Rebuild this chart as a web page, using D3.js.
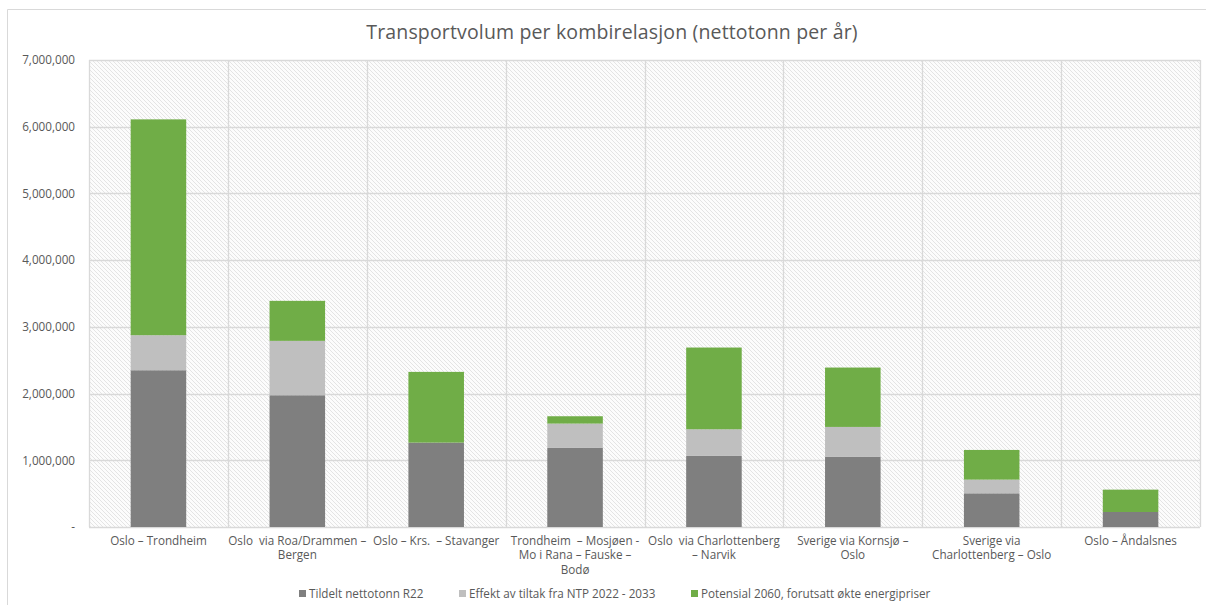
<!DOCTYPE html>
<html>
<head>
<meta charset="utf-8">
<script src="https://cdn.jsdelivr.net/npm/d3@7"></script>
<style>
  body { margin: 0; background: #fff; }
  svg { display: block; font-family: "Open Sans", sans-serif; }
  .cat text { white-space: pre; }
</style>
</head>
<body>
<script>
// category labels (lines split as in the original)
const categories = [
  ["Oslo – Trondheim"],
  ["Oslo  via Roa/Drammen –", "Bergen"],
  ["Oslo – Krs.  – Stavanger"],
  ["Trondheim  – Mosjøen -", "Mo i Rana – Fauske –", "Bodø"],
  ["Oslo  via Charlottenberg", "– Narvik"],
  ["Sverige via Kornsjø –", "Oslo"],
  ["Sverige via", "Charlottenberg – Oslo"],
  ["Oslo – Åndalsnes"]
];
const seriesNames = ["Tildelt nettotonn R22", "Effekt av tiltak fra NTP 2022 - 2033", "Potensial 2060, forutsatt økte energipriser"];
const tildelt = [2350000, 1975000, 1265000, 1185000, 1065000, 1050000, 505000, 225000];
const effekt = [525000, 815000, 0, 365000, 400000, 450000, 205000, 0];
const potensial = [3235000, 600000, 1060000, 110000, 1225000, 890000, 445000, 335000];
const yTicks = [0, 1000000, 2000000, 3000000, 4000000, 5000000, 6000000, 7000000];
const colors = ["#7f7f7f", "#bfbfbf", "#70ad47"];

const W = 1206, H = 605;
const m = { left: 89, top: 60, right: 1200, bottom: 527 };

const svg = d3.select("body").append("svg")
  .attr("width", W)
  .attr("height", H);

// hatch pattern for plot background
const defs = svg.append("defs");
const pat = defs.append("pattern")
  .attr("id", "hatch")
  .attr("patternUnits", "userSpaceOnUse")
  .attr("width", 4).attr("height", 4);
pat.append("rect").attr("width", 4).attr("height", 4).attr("fill", "#fcfcfc");
pat.append("path")
  .attr("d", "M-1,-1 L5,5 M-1,3 L1,5 M3,-1 L5,1")
  .attr("stroke", "#e4e4e4")
  .attr("stroke-width", 1);

// chart border
svg.append("path")
  .attr("d", "M7.5," + H + " L7.5,9.5 L" + W + ",9.5")
  .attr("fill", "none")
  .attr("stroke", "#d9d9d9");

const rows = categories.map((c, i) => ({ i: i, tildelt: tildelt[i], effekt: effekt[i], potensial: potensial[i] }));
const stack = d3.stack().keys(["tildelt", "effekt", "potensial"])(rows);

const x = d3.scaleBand()
  .domain(d3.range(categories.length))
  .range([m.left, m.right])
  .paddingInner(0)
  .paddingOuter(0);

const y = d3.scaleLinear()
  .domain([0, 7000000])
  .range([m.bottom, m.top]);

svg.append("rect")
  .attr("x", m.left).attr("y", m.top)
  .attr("width", m.right - m.left).attr("height", m.bottom - m.top)
  .attr("fill", "url(#hatch)");

// gridlines
svg.append("g").selectAll("line")
  .data(yTicks)
  .join("line")
  .attr("x1", m.left).attr("x2", m.right)
  .attr("y1", d => Math.round(y(d)) + 0.5).attr("y2", d => Math.round(y(d)) + 0.5)
  .attr("stroke", "#d9d9d9").attr("stroke-width", 1.3);

svg.append("g").selectAll("line")
  .data(d3.range(categories.length + 1))
  .join("line")
  .attr("x1", d => Math.round(m.left + d * x.bandwidth()) + 0.5)
  .attr("x2", d => Math.round(m.left + d * x.bandwidth()) + 0.5)
  .attr("y1", m.top).attr("y2", m.bottom)
  .attr("stroke", "#d9d9d9").attr("stroke-width", 1.3);

// bars
const barW = x.bandwidth() * 0.4;
svg.append("g").selectAll("g")
  .data(stack)
  .join("g")
  .attr("fill", (d, i) => colors[i])
  .selectAll("rect")
  .data(d => d)
  .join("rect")
  .attr("x", (d, i) => x(i) + (x.bandwidth() - barW) / 2)
  .attr("y", d => y(d[1]))
  .attr("width", barW)
  .attr("height", d => y(d[0]) - y(d[1]));

// y axis
const yAxis = d3.axisLeft(y)
  .tickValues(yTicks)
  .tickSize(0)
  .tickPadding(14)
  .tickFormat(d => d === 0 ? "-" : d3.format(",")(d));

svg.append("g")
  .attr("transform", "translate(" + m.left + ",0)")
  .call(yAxis)
  .call(g => g.select(".domain").remove())
  .call(g => g.selectAll("text")
    .attr("fill", "#595959")
    .style("font-size", "11.7px")
    .style("font-family", "Open Sans, sans-serif"));

// category labels
const xl = svg.append("g").attr("class", "cat");
categories.forEach((lines, i) => {
  const t = xl.append("text")
    .attr("x", x(i) + x.bandwidth() / 2)
    .attr("y", 545)
    .attr("text-anchor", "middle")
    .attr("fill", "#595959")
    .style("font-size", "11.7px");
  lines.forEach((l, j) => {
    t.append("tspan")
      .attr("x", x(i) + x.bandwidth() / 2)
      .attr("dy", j === 0 ? 0 : 14.3)
      .text(l);
  });
});

// title
svg.append("text")
  .attr("x", 612)
  .attr("y", 39)
  .attr("text-anchor", "middle")
  .attr("fill", "#595959")
  .style("font-size", "19.5px")
  .style("letter-spacing", "0.15px")
  .text("Transportvolum per kombirelasjon (nettotonn per år)");

// legend
const legX = [299, 459, 691];
const leg = svg.append("g");
seriesNames.forEach((s, i) => {
  leg.append("rect")
    .attr("x", legX[i]).attr("y", 590)
    .attr("width", 7).attr("height", 7)
    .attr("fill", colors[i]);
  leg.append("text")
    .attr("x", legX[i] + 10).attr("y", 598)
    .attr("fill", "#595959")
    .style("font-size", "11.7px")
    .text(s);
});
</script>
</body>
</html>
